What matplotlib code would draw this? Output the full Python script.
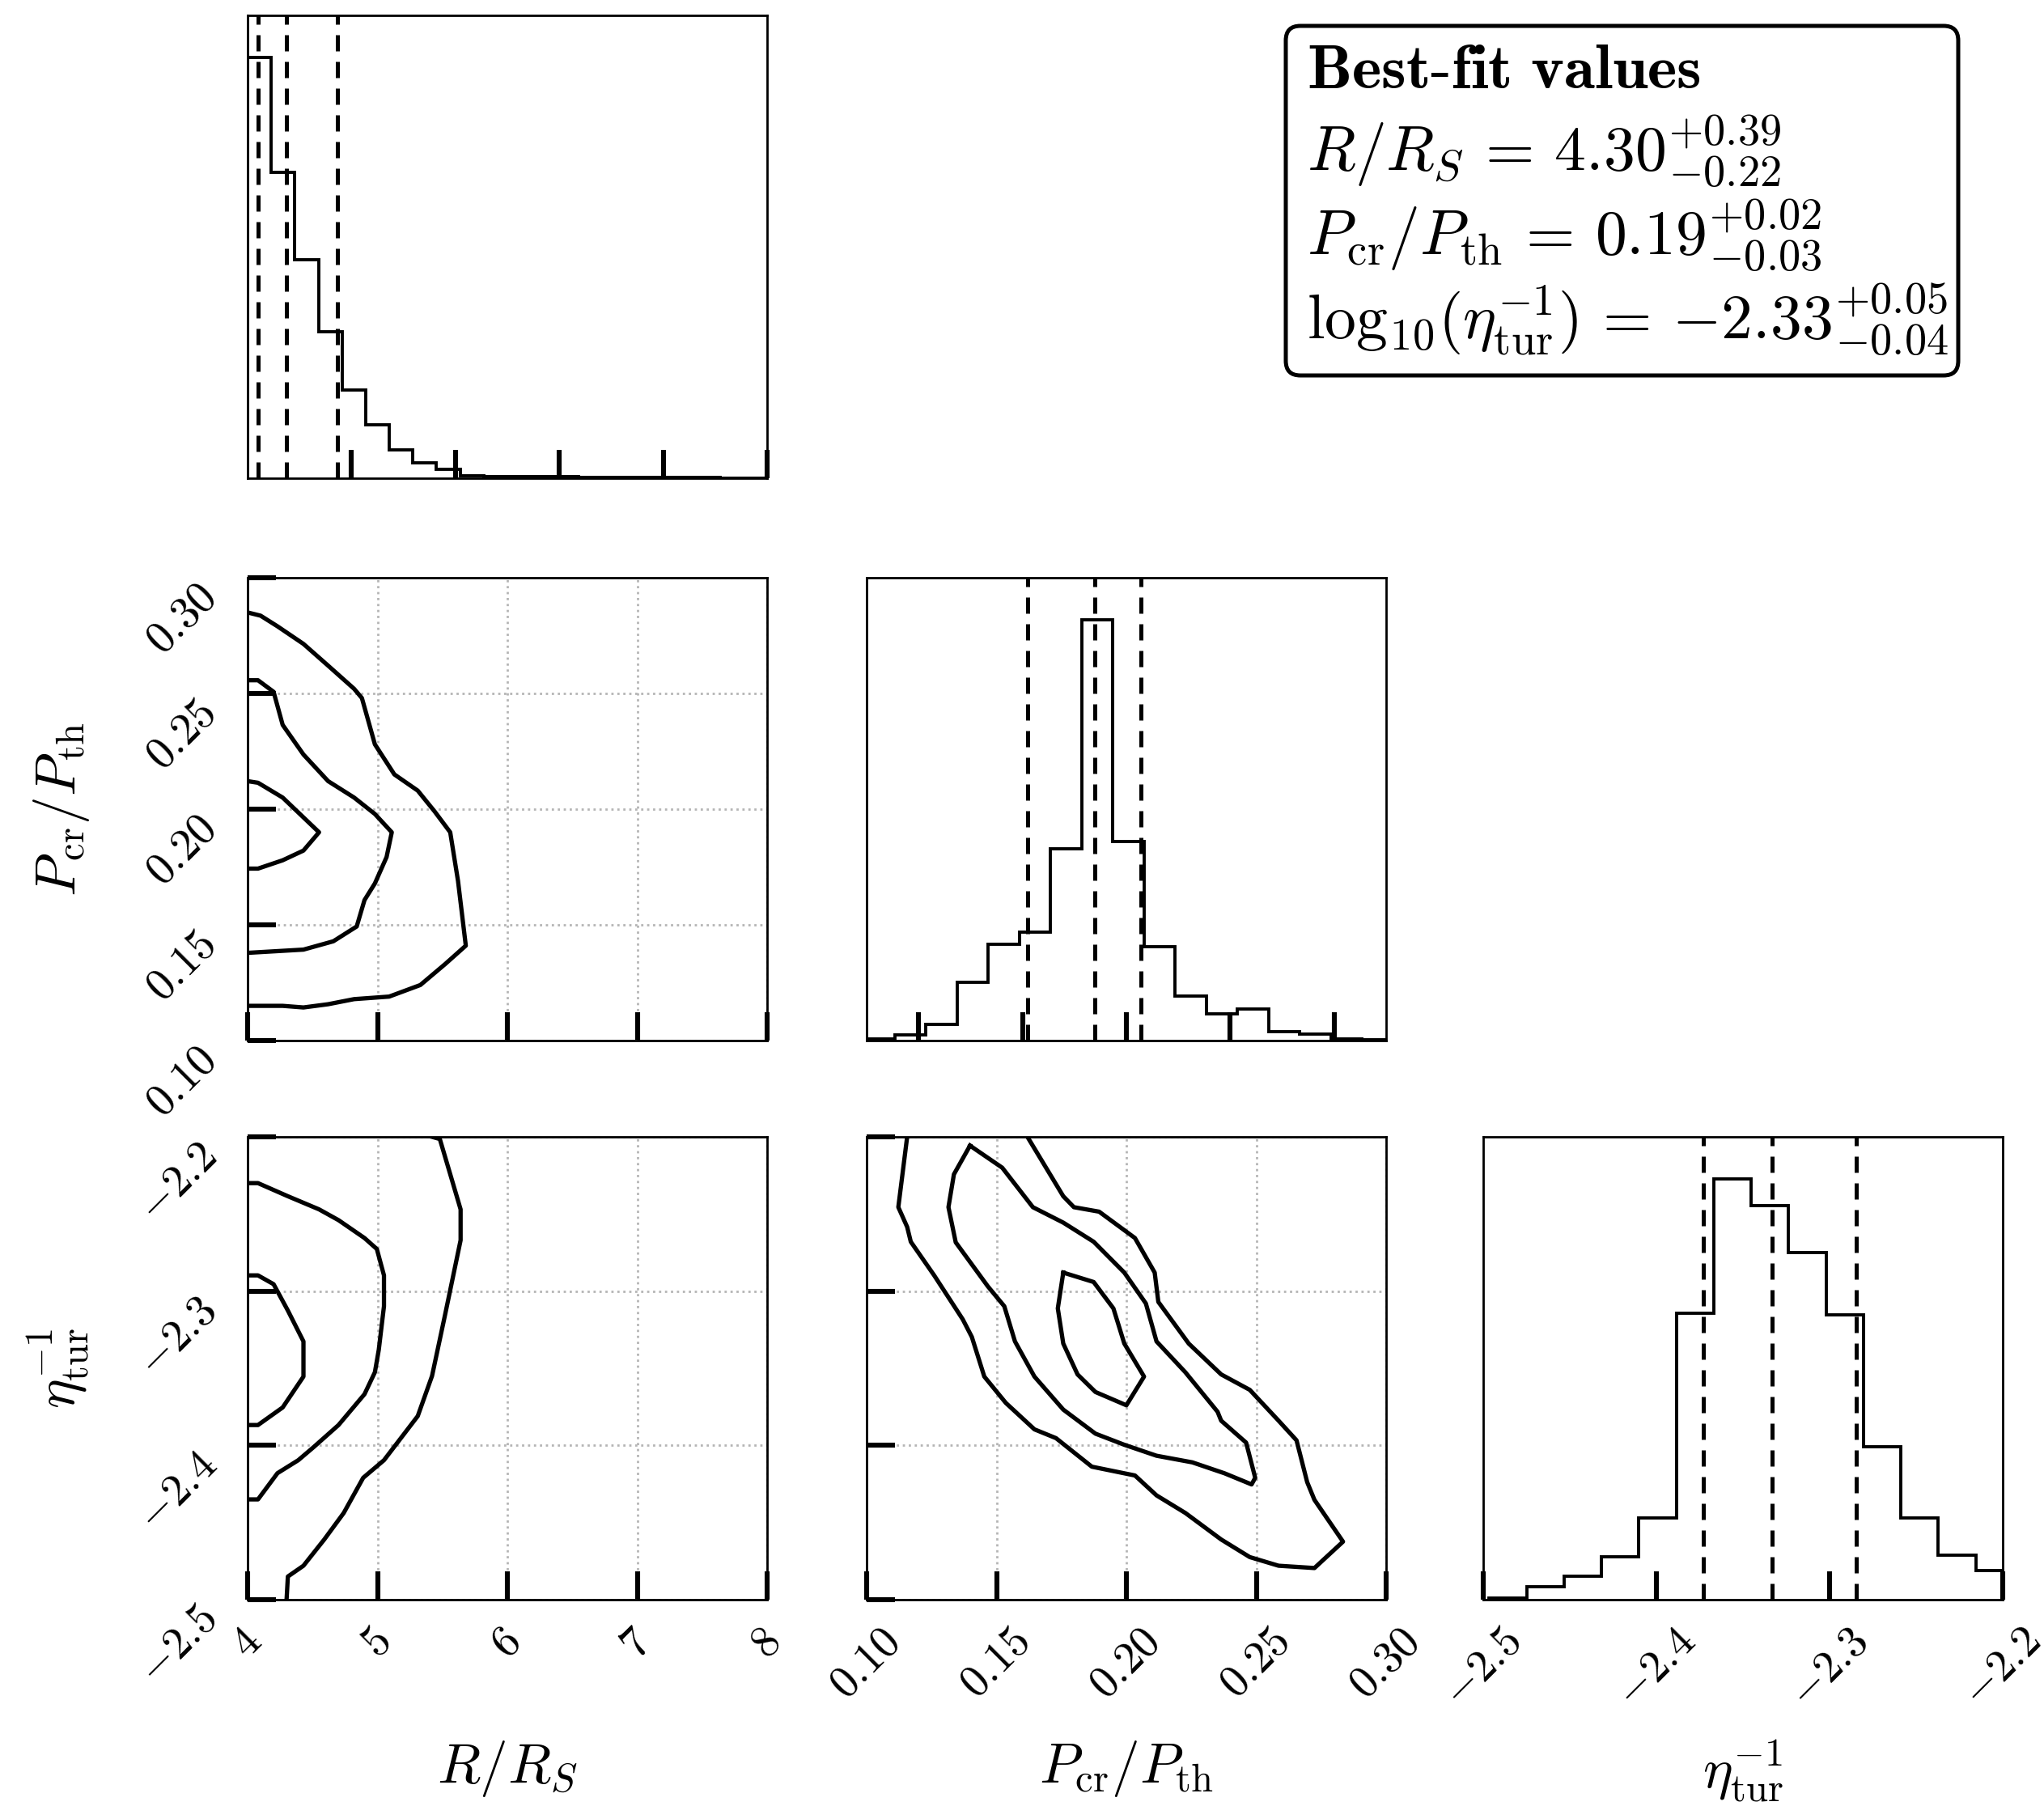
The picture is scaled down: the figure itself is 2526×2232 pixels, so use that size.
import numpy as np
import matplotlib
matplotlib.use('Agg')
import matplotlib.pyplot as plt
from matplotlib.patches import FancyBboxPatch

plt.rcParams['font.family'] = 'serif'
plt.rcParams['font.serif'] = ['cmr10']
plt.rcParams['mathtext.fontset'] = 'cm'

# parameters
labels = [r'$R/R_S$', r'$P_{\rm cr}/P_{\rm th}$', r'$\eta_{\rm tur}^{-1}$']
limits = [(4.0, 8.0), (0.10, 0.30), (-2.5, -2.2)]

# ticks (labelled, for 2d panels / bottom row)
ticks = [[4, 5, 6, 7, 8],
         [0.10, 0.15, 0.20, 0.25, 0.30],
         [-2.5, -2.4, -2.3, -2.2]]
tick_labels = [[r'$4$', r'$5$', r'$6$', r'$7$', r'$8$'],
               [r'$0.10$', r'$0.15$', r'$0.20$', r'$0.25$', r'$0.30$'],
               [r'$-2.5$', r'$-2.4$', r'$-2.3$', r'$-2.2$']]
# ticks on the diagonal histograms (no labels except last)
diag_ticks = [[4.8, 5.6, 6.4, 7.2, 8.0],
              [0.12, 0.16, 0.20, 0.24, 0.28],
              [-2.5, -2.4, -2.3, -2.2]]

# histograms: first edge, bin width, counts
hist_start = [4.0, 0.0988, -2.4966]
hist_width = [4.0 / 22, 0.012, 0.02162]
hist_counts = [
    [1320, 960, 685, 460, 276, 168, 90, 48, 28, 8, 6, 6, 5, 5, 3, 3, 3, 3, 3, 2, 0, 0],
    [5, 18, 52, 190, 312, 352, 622, 1365, 647, 304, 145, 87, 103, 28, 22, 5, 3],
    [4, 29, 54, 97, 187, 654, 960, 899, 792, 649, 349, 187, 102, 67],
]

# 16 / 50 / 84 percentiles (dashed lines)
q16 = [4.08, 0.162, -2.373]
q50 = [4.30, 0.188, -2.333]
q84 = [4.69, 0.2055, -2.2845]

# best-fit box
best = ['4.30', '0.19', '{-}2.33']
err_plus = ['0.39', '0.02', '0.05']
err_minus = ['0.22', '0.03', '0.04']

# contour outlines
# R/R_S vs P_cr/P_th
c_rp_outer_x = [4.0, 4.10, 4.23, 4.43, 4.62, 4.82, 4.88, 4.98, 5.13, 5.31, 5.44, 5.56, 5.62, 5.68,
                5.52, 5.33, 5.09, 4.82, 4.62, 4.43, 4.27, 4.0]
c_rp_outer_y = [0.285, 0.2836, 0.279, 0.2714, 0.262, 0.252, 0.248, 0.228, 0.215, 0.208, 0.199, 0.19,
                0.169, 0.141, 0.133, 0.124, 0.119, 0.1179, 0.1157, 0.1143, 0.115, 0.115]
c_rp_mid_x = [4.0, 4.08, 4.20, 4.27, 4.43, 4.62, 4.82, 4.98, 5.11, 5.07, 4.98, 4.90, 4.84, 4.66, 4.43, 4.0]
c_rp_mid_y = [0.2557, 0.2557, 0.2507, 0.2364, 0.2236, 0.2121, 0.205, 0.1979, 0.19, 0.1793, 0.1679,
              0.1607, 0.1493, 0.1429, 0.1393, 0.1379]
c_rp_in_x = [4.0, 4.08, 4.27, 4.55, 4.43, 4.27, 4.08, 4.0]
c_rp_in_y = [0.2121, 0.2114, 0.205, 0.19, 0.1821, 0.1779, 0.1743, 0.1743]

# R/R_S vs eta
c_re_outer_x = [5.42, 5.48, 5.64, 5.64, 5.52, 5.42, 5.31, 5.05, 4.89, 4.74, 4.59, 4.43, 4.31, 4.30]
c_re_outer_y = [-2.2, -2.2014, -2.247, -2.267, -2.3155, -2.355, -2.381, -2.4096, -2.421, -2.4438,
                -2.461, -2.478, -2.485, -2.5]
c_re_mid_x = [4.0, 4.08, 4.31, 4.55, 4.70, 4.90, 4.995, 5.05, 5.05, 5.01, 4.98, 4.90, 4.70, 4.51,
              4.39, 4.23, 4.08, 4.0]
c_re_mid_y = [-2.23, -2.23, -2.2385, -2.247, -2.254, -2.2656, -2.2727, -2.2898, -2.3098, -2.338,
              -2.3526, -2.3668, -2.3868, -2.401, -2.4096, -2.418, -2.435, -2.435]
c_re_in_x = [4.0, 4.08, 4.20, 4.31, 4.43, 4.43, 4.27, 4.08, 4.0]
c_re_in_y = [-2.2898, -2.2898, -2.2955, -2.3126, -2.3326, -2.3554, -2.3754, -2.3868, -2.3868]

# P_cr/P_th vs eta
c_pe_outer_x = [0.1156, 0.1122, 0.1156, 0.117, 0.126, 0.137, 0.1405, 0.1453, 0.1536, 0.1646, 0.1729,
                0.1867, 0.2033, 0.2116, 0.2227, 0.2365, 0.2475, 0.2586, 0.2724, 0.2834, 0.2724,
                0.2696, 0.2655, 0.2586, 0.2475, 0.2365, 0.2240, 0.2123, 0.2109, 0.2033, 0.1895,
                0.1798, 0.1757, 0.1619]
c_pe_outer_y = [-2.2, -2.2456, -2.2584, -2.268, -2.2898, -2.3183, -2.3297, -2.3554, -2.3725, -2.3896,
                -2.3953, -2.4138, -2.4195, -2.4324, -2.4438, -2.461, -2.4724, -2.478, -2.4795,
                -2.4624, -2.4353, -2.4238, -2.3967, -2.384, -2.364, -2.354, -2.334, -2.307, -2.288,
                -2.2656, -2.2485, -2.2456, -2.2385, -2.2]
c_pe_mid_x = [0.1398, 0.1522, 0.1640, 0.1757, 0.1874, 0.1992, 0.2075, 0.2116, 0.2227, 0.2351, 0.2365,
              0.2461, 0.2496, 0.2482, 0.2378, 0.2254, 0.2116, 0.1992, 0.1881, 0.1757, 0.1646, 0.1571,
              0.1530, 0.1467, 0.1343, 0.1315, 0.1336, 0.1398]
c_pe_mid_y = [-2.2057, -2.22, -2.2456, -2.2556, -2.268, -2.288, -2.308, -2.3326, -2.3526, -2.3782,
              -2.384, -2.3982, -2.421, -2.4253, -2.4181, -2.411, -2.4067, -2.3996, -2.3924, -2.3768,
              -2.3554, -2.3326, -2.3098, -2.297, -2.2684, -2.2456, -2.2243, -2.2057]
c_pe_in_x = [0.1757, 0.1874, 0.195, 0.1992, 0.2068, 0.2000, 0.1881, 0.1812, 0.1757, 0.1736, 0.1757]
c_pe_in_y = [-2.288, -2.2941, -2.3112, -2.334, -2.3554, -2.374, -2.3654, -2.354, -2.334, -2.3112, -2.288]

contours = {
    (1, 0): [(c_rp_outer_x, c_rp_outer_y), (c_rp_mid_x, c_rp_mid_y), (c_rp_in_x, c_rp_in_y)],
    (2, 0): [(c_re_outer_x, c_re_outer_y), (c_re_mid_x, c_re_mid_y), (c_re_in_x, c_re_in_y)],
    (2, 1): [(c_pe_outer_x, c_pe_outer_y), (c_pe_mid_x, c_pe_mid_y), (c_pe_in_x, c_pe_in_y)],
}

W, H = 2526, 2232
fig = plt.figure(figsize=(W / 200, H / 200), dpi=200)

col_left = [306, 1071, 1833]
row_top = [19, 714, 1405]
pw, ph = 642, 572

tick_kw = dict(direction='in', length=12.5, width=2.2, pad=10, labelsize=20,
               top=False, right=False, colors='k')

for i in range(3):
    for j in range(i + 1):
        ax = fig.add_axes([col_left[j] / W, 1 - (row_top[i] + ph) / H, pw / W, ph / H])
        for s in ax.spines.values():
            s.set_linewidth(1.0)
        ax.tick_params(**tick_kw)
        if i == j:
            edges = hist_start[i] + hist_width[i] * np.arange(len(hist_counts[i]) + 1)
            ax.stairs(hist_counts[i], edges, color='k', lw=1.4)
            for q in (q16[i], q50[i], q84[i]):
                ax.axvline(q, color='k', lw=1.8, ls=(0, (4, 2.6)))
            ax.set_xlim(*limits[i])
            ax.set_ylim(0, 1.1 * max(hist_counts[i]))
            ax.set_yticks([])
            if i == 2:
                ax.set_xticks(ticks[i])
                ax.set_xticklabels(tick_labels[i], rotation=45)
                ax.set_xlabel(labels[i], fontsize=25)
                ax.xaxis.set_label_coords(0.5, -0.3)
            else:
                ax.set_xticks(diag_ticks[i])
                ax.set_xticklabels([])
        else:
            ax.grid(True, ls=':', lw=1.0, color='#b5b5b5')
            ax.set_axisbelow(True)
            for cx, cy in contours[(i, j)]:
                ax.plot(cx, cy, color='k', lw=1.9, solid_joinstyle='round')
            ax.set_xlim(*limits[j])
            ax.set_ylim(*limits[i])
            ax.set_xticks(ticks[j])
            ax.set_yticks(ticks[i])
            if i == 2:
                ax.set_xticklabels(tick_labels[j], rotation=45)
                ax.set_xlabel(labels[j], fontsize=25)
                ax.xaxis.set_label_coords(0.5, -0.3)
            else:
                ax.set_xticklabels([])
            if j == 0:
                ax.set_yticklabels(tick_labels[i], rotation=45, va='top')
                ax.set_ylabel(labels[i], fontsize=25)
                ax.yaxis.set_label_coords(-0.3, 0.5)
            else:
                ax.set_yticklabels([])

# best-fit box
box = FancyBboxPatch((1589 / 200, (H - 464) / 200), (2420 - 1589) / 200, (464 - 32) / 200,
                     boxstyle='round,pad=0,rounding_size=0.09', transform=fig.dpi_scale_trans,
                     facecolor='white', edgecolor='k', lw=1.8)
fig.patches.append(box)

names = [r'R/R_S', r'P_{\rm cr}/P_{\rm th}', r'\mathrm{log}_{10}(\eta_{\rm tur}^{-1})']
lines = [r'$\mathbf{Best}$-$\mathbf{fit\ values}$']
for k in range(3):
    lines.append(r'$%s\,=\,%s^{+%s}_{-%s}$' % (names[k], best[k], err_plus[k], err_minus[k]))
baselines = [109, 211, 315, 419]
for txt, yb in zip(lines, baselines):
    fig.text(1615 / W, 1 - yb / H, txt, fontsize=28, va='baseline', ha='left')

fig.savefig('out.png', dpi=200)
